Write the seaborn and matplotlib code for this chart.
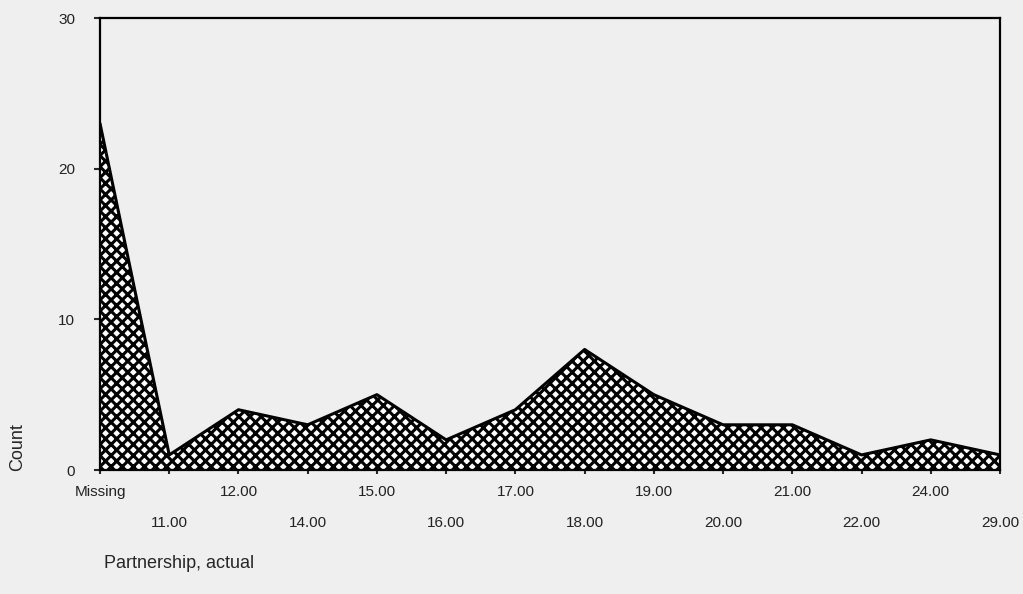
import pandas as pd
import matplotlib
matplotlib.use("Agg")
import matplotlib.pyplot as plt
import seaborn as sns

# Data
categories = ["Missing", "11.00", "12.00", "14.00", "15.00", "16.00", "17.00",
              "18.00", "19.00", "20.00", "21.00", "22.00", "24.00", "29.00"]
counts = [23, 1, 4, 3, 5, 2, 4, 8, 5, 3, 3, 1, 2, 1]
y_ticks = [0, 10, 20, 30]

df = pd.DataFrame({"pos": range(len(categories)), "category": categories, "count": counts})

sns.set_style("white")
plt.rcParams["font.family"] = ["Liberation Sans", "DejaVu Sans"]
plt.rcParams["hatch.linewidth"] = 2.2

bg = "#efefef"
fig = plt.figure(figsize=(10.23, 5.94), dpi=100, facecolor=bg)
ax = fig.add_axes([100 / 1023, 1 - 470 / 594, 900 / 1023, 452 / 594])
ax.set_facecolor(bg)

# Hatched area
ax.fill_between(df["pos"], 0, df["count"], facecolor="white", edgecolor="black",
                hatch="xxx", linewidth=0)
sns.lineplot(data=df, x="pos", y="count", color="black", linewidth=2.2, ax=ax)
ax.axhline(0, color="black", linewidth=2.2)

ax.set_xlim(0, len(categories) - 1)
ax.set_ylim(0, 30)
ax.set_yticks(y_ticks)
ax.set_yticklabels([str(v) for v in y_ticks], fontsize=11, color="#222222")
ax.set_xticks(df["pos"])
ax.set_xticklabels(categories, fontsize=11, color="#222222")
ax.tick_params(axis="y", which="major", direction="out", length=4, width=1.5,
               left=True, pad=14)
ax.tick_params(axis="x", which="major", direction="out", length=3, width=1.5,
               bottom=True)
for i, tick in enumerate(ax.xaxis.get_major_ticks()):
    tick.set_pad(8 if i % 2 == 0 else 30)

for side in ["top", "left", "right", "bottom"]:
    ax.spines[side].set_visible(True)
    ax.spines[side].set_color("black")
    ax.spines[side].set_linewidth(1.6)

ax.set_xlabel("")
ax.set_ylabel("")
fig.text(18 / 1023, 1 - 447 / 594, "Count", rotation=90, va="center", ha="center", fontsize=13)
fig.text(104 / 1023, 1 - 563 / 594, "Partnership, actual", va="center", ha="left", fontsize=13)

fig.savefig("out.png", dpi=100, facecolor=bg)
